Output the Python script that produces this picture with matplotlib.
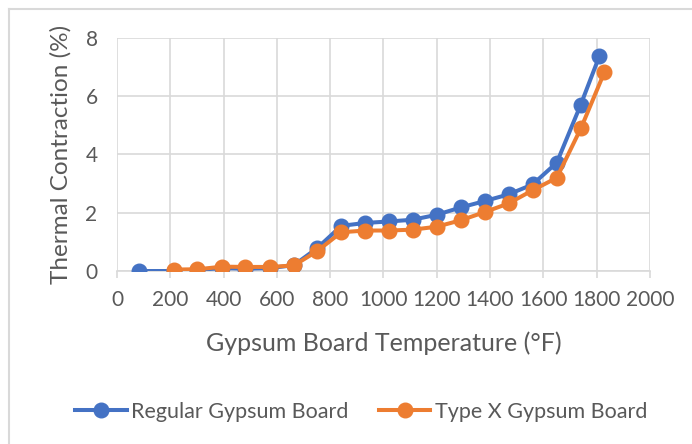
import matplotlib
matplotlib.use("Agg")
import matplotlib.pyplot as plt
from matplotlib.lines import Line2D

# temperatures (°F) and thermal contraction (%)
regular_temp = [82, 214, 302, 396, 482, 574, 664, 751, 842, 932, 1021,
                1110, 1200, 1290, 1380, 1470, 1560, 1651, 1740, 1811]
regular_contr = [0.0, 0.0, 0.04, 0.1, 0.08, 0.1, 0.2, 0.78, 1.55, 1.65, 1.7,
                 1.76, 1.93, 2.18, 2.4, 2.63, 2.97, 3.72, 5.69, 7.38]

typex_temp = [214, 302, 396, 482, 574, 664, 751, 842, 932, 1021,
              1111, 1200, 1290, 1380, 1470, 1560, 1651, 1742, 1830]
typex_contr = [0.05, 0.06, 0.15, 0.14, 0.14, 0.19, 0.68, 1.33, 1.39, 1.39,
               1.42, 1.52, 1.74, 2.02, 2.32, 2.77, 3.2, 4.91, 6.83]

xticks = list(range(0, 2001, 200))
yticks = [0, 2, 4, 6, 8]

txt = "#595959"
grid = "#d9d9d9"
plt.rcParams['font.family'] = ['Lato', 'DejaVu Sans']

fig = plt.figure(figsize=(6.92, 4.44), dpi=100)
ax = fig.add_axes([0.169, 0.3896, 0.77, 0.525])

ax.plot(regular_temp, regular_contr, color="#4472C4", lw=2.9, marker="o",
        ms=10.5, label="Regular Gypsum Board", zorder=3)
ax.plot(typex_temp, typex_contr, color="#ED7D31", lw=2.9, marker="o",
        ms=10.5, label="Type X Gypsum Board", zorder=4)

ax.set_xlim(0, 2000)
ax.set_ylim(0, 8)
ax.set_xticks(xticks)
ax.set_yticks(yticks)
ax.grid(True, color=grid, lw=1.2, zorder=0)
ax.set_axisbelow(True)
for s in ["top", "right", "left"]:
    ax.spines[s].set_visible(False)
ax.spines["bottom"].set_color(grid)
ax.spines["bottom"].set_linewidth(1.2)
ax.tick_params(axis="x", colors=txt, labelsize=15, length=5, width=1.2,
               color=grid, pad=9)
ax.tick_params(axis="y", colors=txt, labelsize=15, length=0, pad=14)
ax.set_xlabel("Gypsum Board Temperature (°F)", color=txt, fontsize=18, labelpad=15)
ax.set_ylabel("Thermal Contraction (%)", color=txt, fontsize=17.5, labelpad=10)

fig.legend(loc="center", bbox_to_anchor=(0.522, 0.072), ncol=2, frameon=False,
           fontsize=15.5, labelcolor=txt, handlelength=2.4, columnspacing=1.4,
           handletextpad=0.2)

# chart area frame (left and top edges)
W, H = 692, 444
fig.add_artist(Line2D([8.5 / W, 8.5 / W], [0, 1 - 9.5 / H], transform=fig.transFigure,
                      color=grid, lw=1.5))
fig.add_artist(Line2D([8.5 / W, 1], [1 - 9.5 / H, 1 - 9.5 / H], transform=fig.transFigure,
                      color=grid, lw=1.5))

fig.savefig("out.png", dpi=100)
